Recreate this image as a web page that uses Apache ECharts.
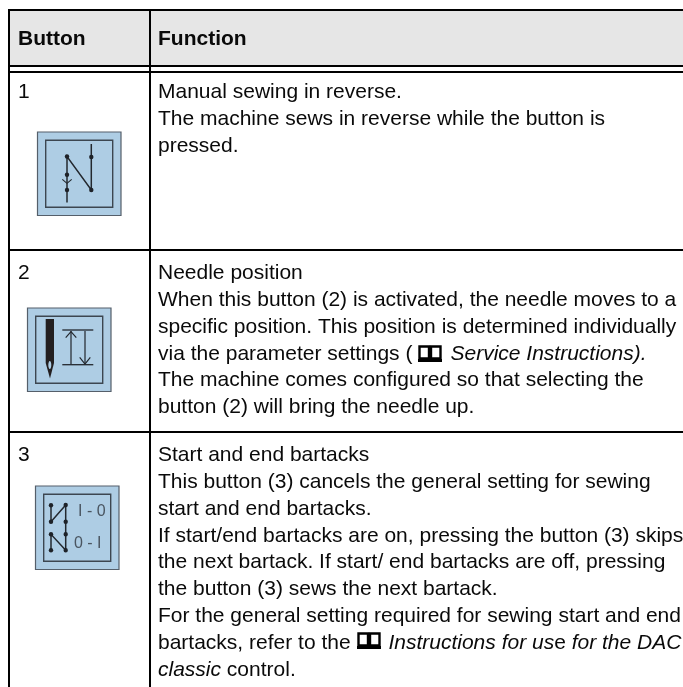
<!DOCTYPE html>
<html>
<head>
<meta charset="utf-8">
<title>Button functions</title>
<style>
html, body { margin: 0; padding: 0; background: #fff; }
#main { width: 683px; height: 687px; }
</style>
<script src="https://cdn.jsdelivr.net/npm/echarts@6/dist/echarts.min.js"></script>
</head>
<body>
<div id="main"></div>
<script>
// table content
var headers = ['Button', 'Function'];
var buttonNumbers = ['1', '2', '3'];
var row1Lines = [
    'Manual sewing in reverse.',
    'The machine sews in reverse while the button is',
    'pressed.'
];
var row2Lines = [
    'Needle position',
    'When this button (2) is activated, the needle moves to a',
    'specific position. This position is determined individually',
    'via the parameter settings ({bookA| }{i|Service Instructions).}',
    'The machine comes configured so that selecting the',
    'button (2) will bring the needle up.'
];
var row3Lines = [
    'Start and end bartacks',
    'This button (3) cancels the general setting for sewing',
    'start and end bartacks.',
    'If start/end bartacks are on, pressing the button (3) skips',
    'the next bartack. If start/ end bartacks are off, pressing',
    'the button (3) sews the next bartack.',
    'For the general setting required for sewing start and end',
    'bartacks, refer to the {bookB| }{i|Instructions for us}e {i|for the DAC}',
    '{i|classic} control.'
];
var iconLabels = ['I - 0', '0 - I'];

var FONT = '"Liberation Sans", Arial, sans-serif';
var FONT_SIZE = 21;
var LINE_H = 26.8;
var INK = '#0a0a0a';
var ICON_BLUE = '#aecde4';
var ICON_LINE = '#3c4650';
var STITCH = '#23282e';

var chart = echarts.init(document.getElementById('main'), null, { renderer: 'canvas' });
var els = [];

function rect(x, y, w, h, fill, stroke, lw) {
    els.push({ type: 'rect', shape: { x: x, y: y, width: w, height: h },
        style: { fill: fill || 'none', stroke: stroke || 'none', lineWidth: lw || 0 } });
}
function line(x1, y1, x2, y2, color, lw) {
    els.push({ type: 'line', shape: { x1: x1, y1: y1, x2: x2, y2: y2 },
        style: { stroke: color, lineWidth: lw } });
}
function poly(points, color, lw) {
    els.push({ type: 'polyline', shape: { points: points },
        style: { stroke: color, lineWidth: lw, fill: 'none' } });
}
function dot(x, y) {
    els.push({ type: 'circle', shape: { cx: x, cy: y, r: 2.2 }, style: { fill: '#1e2228' } });
}
function text(str, x, y, opts) {
    opts = opts || {};
    els.push({ type: 'text', x: x, y: y, style: {
        text: str, fill: opts.color || INK,
        font: (opts.bold ? 'bold ' : '') + (opts.size || FONT_SIZE) + 'px ' + FONT,
        verticalAlign: 'middle', align: 'left',
        rich: {
            i: { fontStyle: 'italic', fontSize: FONT_SIZE, fontFamily: FONT, fill: INK },
            bookA: { width: 38, fontSize: FONT_SIZE, fontFamily: FONT },
            bookB: { width: 32, fontSize: FONT_SIZE, fontFamily: FONT }
        }
    } });
}
function textBlock(lines, x, y) {
    lines.forEach(function (s, i) { text(s, x, y + i * LINE_H); });
}
function book(x, y) {
    // open-book reference mark
    rect(x + 1.5, y + 1, 9.5, 12, '#fff', '#000', 2.4);
    rect(x + 13, y + 1, 9.5, 12, '#fff', '#000', 2.4);
    line(x, y + 15, x + 24, y + 15, '#000', 3);
}
function iconFrame(x, y) {
    rect(x + 0.5, y + 0.5, 83.5, 83.5, ICON_BLUE, '#555f6a', 1.2);
    rect(x + 8.7, y + 8.7, 67, 67, 'none', ICON_LINE, 1.4);
}

// table body
rect(9, 11, 674, 55, '#e6e6e6');
line(9, 10, 683, 10, '#000', 2);
line(9, 66, 683, 66, '#000', 2);
line(9, 72, 683, 72, '#000', 2);
line(9, 250, 683, 250, '#000', 2);
line(9, 432, 683, 432, '#000', 2);
line(9, 9, 9, 687, '#000', 2);
line(150, 9, 150, 687, '#000', 2);

text(headers[0], 18, 39.5, { bold: true, size: 21 });
text(headers[1], 158, 39.5, { bold: true, size: 21 });

text(buttonNumbers[0], 18, 92.5);
text(buttonNumbers[1], 18, 273.5);
text(buttonNumbers[2], 18, 455.5);

textBlock(row1Lines, 158, 92.5);
textBlock(row2Lines, 158, 273.5);
textBlock(row3Lines, 158, 455.5);

// icon 1: reverse sewing
iconFrame(37, 131.5);
poly([[67, 202.5], [67, 156.5], [91.3, 190], [91.3, 144]], STITCH, 1.5);
poly([[62.3, 179.3], [67, 183.3], [71.7, 179.3]], STITCH, 1.1);
dot(67, 156.5); dot(67, 174.7); dot(67, 190); dot(91.3, 157); dot(91.3, 190);

// icon 2: needle position
iconFrame(27, 307.5);
els.push({ type: 'polygon', shape: { points: [[45.7, 319], [54, 319], [54, 363], [50, 378.5], [45.7, 363]] }, style: { fill: '#231f20' } });
els.push({ type: 'ellipse', shape: { cx: 49.8, cy: 365, rx: 1.5, ry: 4 }, style: { fill: ICON_BLUE } });
line(62.3, 330, 93.3, 330, STITCH, 1.3);
line(62.3, 364.7, 93.3, 364.7, STITCH, 1.3);
line(71, 331, 71, 364, ICON_LINE, 1.5);
line(85, 331, 85, 363, ICON_LINE, 1.5);
poly([[65.7, 337.7], [71, 331.7], [76.3, 337.7]], STITCH, 1.2);
poly([[79.7, 357.3], [85, 364], [90.3, 357.3]], STITCH, 1.2);

// icon 3: start and end bartacks
iconFrame(35, 485.5);
poly([[51, 505.3], [51, 521.7], [65.7, 505], [65.7, 550.3]], STITCH, 1.5);
poly([[51, 550.3], [51, 534.3], [65.7, 550.3]], STITCH, 1.5);
[[51, 505.3], [65.7, 505], [51, 521.7], [65.7, 521.7], [51, 534.3], [65.7, 534.3], [51, 550.3], [65.7, 550.3]].forEach(function (p) { dot(p[0], p[1]); });
text(iconLabels[0], 78, 511.5, { color: '#4a5560', size: 16 });
text(iconLabels[1], 74, 543.5, { color: '#4a5560', size: 16 });

// reference book marks
book(418, 345.5);
book(357, 632.5);

chart.setOption({
    backgroundColor: '#fff',
    animation: false,
    graphic: { elements: els }
});
</script>
</body>
</html>
